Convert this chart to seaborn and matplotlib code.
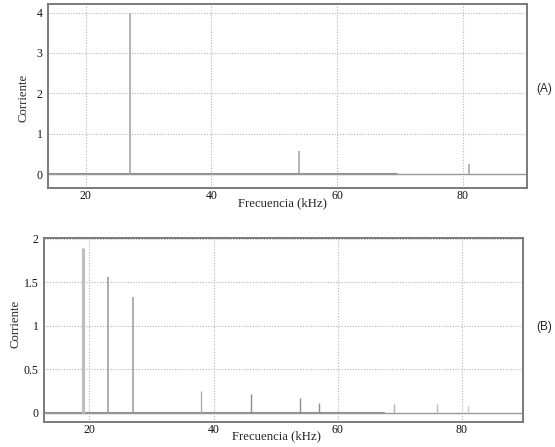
import numpy as np
import pandas as pd
import matplotlib
matplotlib.use("Agg")
import matplotlib.pyplot as plt
import seaborn as sns

# Spectrum (A): spike frequencies (kHz) and amplitudes
freq_a = [27, 54, 81]
amp_a = [4.0, 0.57, 0.26]

# Spectrum (B)
freq_b = [19, 23, 27, 38, 46, 54, 57, 69, 76, 81]
amp_b = [1.89, 1.56, 1.33, 0.25, 0.22, 0.17, 0.12, 0.10, 0.10, 0.08]

# low-level floor drawn along zero
floor_a = pd.DataFrame({"f": [14, 69.5], "i": [0.0, 0.0]})
floor_b = pd.DataFrame({"f": [12.7, 67.5], "i": [0.0, 0.0]})

xticks = [20, 40, 60, 80]
yticks_a = [0, 1, 2, 3, 4]
yticks_b = [0, 0.5, 1, 1.5, 2]
yticklabels_b = ["0", "0.5", "1", "1.5", "2"]

sns.set_style("white")
plt.rcParams["font.family"] = ["Liberation Serif", "DejaVu Serif"]

fig = plt.figure(figsize=(5.55, 4.47), dpi=100)
ax_a = fig.add_axes([0.0865, 0.579, 0.863, 0.412])
ax_b = fig.add_axes([0.0793, 0.0566, 0.8627, 0.411])

frame_col = "#7a7a7a"
grid_col = "#b5b5b5"


def style_axis(ax, xlim, ylim, yticks, ylabels):
    ax.set_xlim(*xlim)
    ax.set_ylim(*ylim)
    ax.set_xticks(xticks)
    ax.set_xticklabels([str(t) for t in xticks])
    ax.set_yticks(yticks)
    ax.set_yticklabels(ylabels)
    ax.tick_params(length=0, labelsize=8.5, pad=4, colors="#111111")
    ax.tick_params(axis="x", pad=1.5)
    for sp in ax.spines.values():
        sp.set_color(frame_col)
        sp.set_linewidth(1.4)
    ax.grid(True, linestyle=(0, (1, 1.5)), color=grid_col, linewidth=0.8)
    ax.set_axisbelow(True)
    ax.axhline(0, color="#999999", linewidth=1.0, zorder=2)
    ax.set_xlabel("Frecuencia (kHz)", fontsize=9.2)
    ax.set_ylabel("Corriente", fontsize=9.2)


# (A)
sns.lineplot(data=floor_a, x="f", y="i", ax=ax_a, color="#8c8c8c", linewidth=1.5)
ax_a.vlines(freq_a, 0, amp_a, colors="#a0a0a0", linewidth=1.1, zorder=3)
style_axis(ax_a, (14, 90.2), (-0.35, 4.21), yticks_a, [str(t) for t in yticks_a])
ax_a.xaxis.set_label_coords(0.49, -0.048)
ax_a.yaxis.set_label_coords(-0.038, 0.49)
fig.text(0.966, 0.80, "(A)", fontsize=8.5, family="Liberation Sans", va="center")

# (B)
sns.lineplot(data=floor_b, x="f", y="i", ax=ax_b, color="#8c8c8c", linewidth=1.5)
widths_b = [2.2, 1.2, 1.2, 1.0, 1.0, 1.0, 1.0, 1.0, 1.0, 1.0]
colors_b = ["#bdbdbd", "#a0a0a0", "#a0a0a0", "#b0b0b0", "#8c8c8c",
            "#8c8c8c", "#8c8c8c", "#b0b0b0", "#bdbdbd", "#c8c8c8"]
ax_b.vlines(freq_b, 0, amp_b, colors=colors_b, linewidth=widths_b, zorder=3)
style_axis(ax_b, (12.7, 89.8), (-0.10, 2.01), yticks_b, yticklabels_b)
ax_b.xaxis.set_label_coords(0.485, -0.045)
ax_b.yaxis.set_label_coords(-0.048, 0.53)
fig.text(0.966, 0.268, "(B)", fontsize=8.5, family="Liberation Sans", va="center")

fig.savefig("out.png", dpi=100)
